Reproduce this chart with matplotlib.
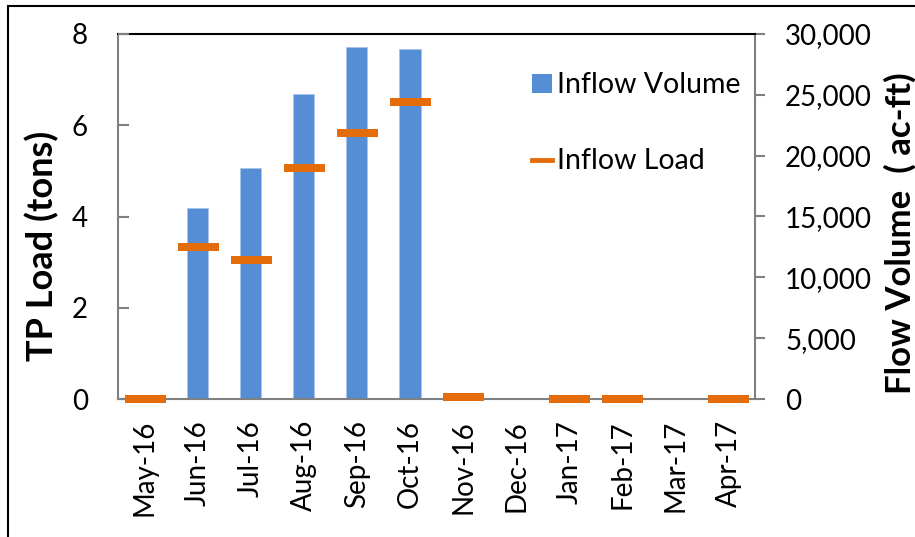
import matplotlib
matplotlib.use("Agg")
import matplotlib.pyplot as plt
import numpy as np
from matplotlib.patches import Patch, Rectangle
from matplotlib.lines import Line2D

months = ["May-16", "Jun-16", "Jul-16", "Aug-16", "Sep-16", "Oct-16",
          "Nov-16", "Dec-16", "Jan-17", "Feb-17", "Mar-17", "Apr-17"]
inflow_volume = [0, 15700, 18950, 25050, 28950, 28750, 0, 0, 0, 0, 0, 0]
inflow_load = [0.0, 3.34, 3.05, 5.07, 5.82, 6.51, 0.05, np.nan, 0.0, 0.0, np.nan, 0.0]
left_ticks = [0, 2, 4, 6, 8]
right_ticks = [0, 5000, 10000, 15000, 20000, 25000, 30000]

BLUE = "#558ED5"
ORANGE = "#E46C0A"
GRAY = "#808080"
FONT = "Lato"
FS = 20

plt.rcParams['font.family'] = [FONT, 'DejaVu Sans']
W, H, DPI = 915, 537, 100
fig = plt.figure(figsize=(W / DPI, H / DPI), dpi=DPI)

# outer frame
fig.patches.append(Rectangle((8 / W, -0.1), 1.2, 1 - 6 / H + 0.1, transform=fig.transFigure,
                             fill=False, edgecolor="black", linewidth=1.5))

l, r, b, t = 118 / W, 755 / W, 1 - 399 / H, 1 - 34 / H
ax2 = fig.add_axes([l, b, r - l, t - b])
ax = ax2.twinx()
ax.yaxis.tick_left()
ax.yaxis.set_label_position("left")
ax2.yaxis.tick_right()
ax2.yaxis.set_label_position("right")
ax.set_zorder(ax2.get_zorder() + 1)
ax.patch.set_visible(False)

x = np.arange(len(months))
ax2.bar(x, inflow_volume, width=0.4, color=BLUE, edgecolor="#A9C4EB", linewidth=0.6)
px = 72 / DPI
ax.plot(x, inflow_load, linestyle="none", marker="_", color=ORANGE,
        markersize=41 * px, markeredgewidth=8 * px, clip_on=False)

ax2.set_xlim(-0.5, len(months) - 0.5)
ax.set_ylim(0, 8)
ax2.set_ylim(0, 30000)
ax.set_yticks(left_ticks)
ax.set_yticklabels([str(v) for v in left_ticks])
ax2.set_yticks(right_ticks)
ax2.set_yticklabels([f"{v:,}" for v in right_ticks])
ax2.set_xticks(x)
ax2.set_xticklabels(months, rotation=90)
ax.tick_params(axis="x", bottom=False, top=False, labelbottom=False, labeltop=False)

for a in (ax, ax2):
    for s in a.spines.values():
        s.set_visible(False)
for side in ("left", "right", "bottom"):
    ax2.spines[side].set_visible(True)
    ax2.spines[side].set_color(GRAY)
    ax2.spines[side].set_linewidth(1.5)
ax2.spines["top"].set_visible(True)
ax2.spines["top"].set_color("black")
ax2.spines["top"].set_linewidth(1.5)

ax.tick_params(axis="y", direction="in", length=11 * px, width=1.5, color=GRAY,
               pad=30 * px, labelsize=FS)
ax2.tick_params(axis="y", direction="out", length=10 * px, width=1.5, color=GRAY,
                pad=20 * px, labelsize=FS)
ax2.tick_params(axis="x", length=0, pad=21 * px, labelsize=FS)

fig.text(42 / W, 1 - 246 / H, "TP Load (tons)", rotation=90, ha="center", va="center",
         fontsize=26, fontweight="bold")
fig.text(900 / W, 1 - 233 / H, "Flow Volume  ( ac-ft)", rotation=90, ha="center", va="center",
         fontsize=25, fontweight="bold")

handles = [Patch(facecolor=BLUE, edgecolor="none"),
           Line2D([], [], color=ORANGE, linewidth=3.5)]
fig.legend(handles, ["Inflow Volume", "Inflow Load"], loc="upper left",
           bbox_to_anchor=(518 / W, 1 - 58 / H), frameon=False, fontsize=20.5,
           borderpad=0, labelspacing=1.76, handlelength=0.68, handleheight=0.63,
           handletextpad=0.2)

fig.savefig("out.png", dpi=DPI)
